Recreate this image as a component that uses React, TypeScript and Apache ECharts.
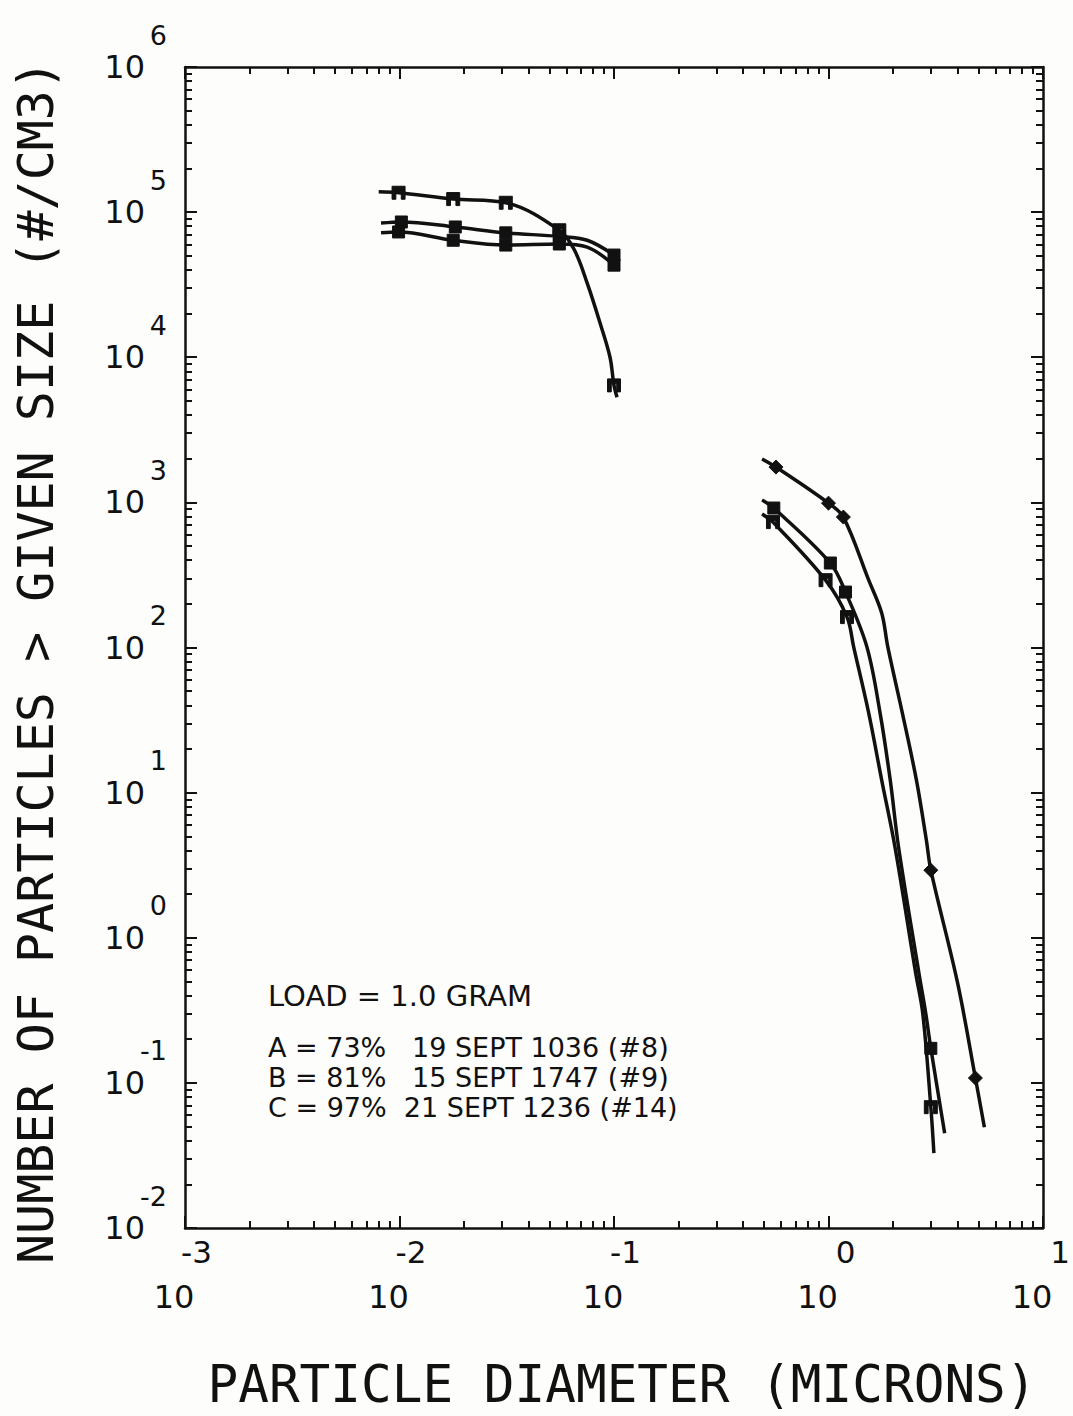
import React, { useEffect, useRef } from "react";
import * as echarts from "echarts";

// ---- tick values ----
const X_MAJOR = [0.001, 0.01, 0.1, 1, 10];
const Y_MAJOR = [0.01, 0.1, 1, 10, 100, 1000, 10000, 100000, 1000000];
const MINOR_MULT = [2, 3, 4, 5, 6, 7, 8, 9];

// ---- series A (73%) ----
const A_LEFT_X = [0.008, 0.0099, 0.0178, 0.0313, 0.0556, 0.0653, 0.075, 0.0861, 0.0958, 0.1, 0.1033];
const A_LEFT_Y = [138000, 136000, 123000, 116000, 75000, 55000, 32400, 17200, 10000, 6400, 5300];
const A_LEFT_MARK = [0, 1, 1, 1, 1, 0, 0, 0, 0, 1, 0];
const A_RIGHT_X = [0.49, 0.551, 0.969, 1.22, 1.31, 1.54, 1.77, 2.04, 2.55, 2.75, 3.0, 3.1];
const A_RIGHT_Y = [830, 731, 291, 162, 101, 35.3, 12.2, 4.24, 0.57, 0.302, 0.068, 0.0328];
const A_RIGHT_MARK = [0, 1, 1, 1, 0, 0, 0, 0, 0, 0, 1, 0];

// ---- series B (81%) ----
const B_LEFT_X = [0.0082, 0.0102, 0.0182, 0.0313, 0.0556, 0.075, 0.1];
const B_LEFT_Y = [84000, 85500, 79000, 72000, 68000, 64000, 50600];
const B_LEFT_MARK = [0, 1, 1, 1, 1, 0, 1];
const B_RIGHT_X = [0.49, 0.556, 1.02, 1.2, 1.51, 1.74, 1.94, 2.12, 2.64, 2.84, 3.0, 3.48];
const B_RIGHT_Y = [1040, 914, 382, 241, 101, 35.3, 12.2, 4.24, 0.57, 0.302, 0.173, 0.045];
const B_RIGHT_MARK = [0, 1, 1, 1, 0, 0, 0, 0, 0, 0, 1, 0];

// ---- series C (97%) ----
const C_LEFT_X = [0.0082, 0.0099, 0.0178, 0.0313, 0.0556, 0.075, 0.1];
const C_LEFT_Y = [72000, 73000, 64000, 59300, 60300, 57400, 43100];
const C_LEFT_MARK = [0, 1, 1, 1, 1, 0, 1];
const C_RIGHT_X = [0.49, 0.569, 1.0, 1.173, 1.54, 1.77, 1.89, 2.21, 2.57, 2.86, 3.0, 4.0, 4.84, 5.33];
const C_RIGHT_Y = [1990, 1750, 988, 792, 291, 173, 101, 35.3, 12.2, 4.7, 2.92, 0.486, 0.108, 0.0495];
const C_RIGHT_MARK = [0, 1, 1, 1, 0, 0, 0, 0, 0, 0, 1, 0, 1, 0];

// ---- texts ----
const X_TITLE = "PARTICLE DIAMETER (MICRONS)";
const Y_TITLE = "NUMBER OF PARTICLES > GIVEN SIZE (#/CM3)";
const NOTE_LINES = [
  "LOAD = 1.0 GRAM",
  "A = 73%   19 SEPT 1036 (#8)",
  "B = 81%   15 SEPT 1747 (#9)",
  "C = 97%  21 SEPT 1236 (#14)",
];

const FONT = '"DejaVu Sans", sans-serif';
const MONO = '"DejaVu Sans Mono", monospace';
const INK = "#111111";

function minorOf(majors: number[]) {
  const out: number[] = [];
  for (let i = 0; i < majors.length - 1; i++) {
    for (const m of MINOR_MULT) out.push(+(majors[i] * m).toPrecision(6));
  }
  return out;
}

function buildData(xs: number[], ys: number[], marks: number[], symbol: string, size: number[]) {
  return xs.map((x, i) => ({
    value: [x, ys[i]],
    symbol: marks[i] ? symbol : "none",
    symbolSize: size,
  }));
}

const SYM_A = "path://M0 0H12V12H8.5V4.5H3.5V12H0Z";
const SYM_B = "rect";
const SYM_C = "diamond";

export default function App() {
  const ref = useRef<HTMLDivElement>(null);
  useEffect(() => {
    if (!ref.current) return;
    const chart = echarts.init(ref.current, undefined, { renderer: "svg" });
    const X_MINOR = minorOf(X_MAJOR);
    const Y_MINOR = minorOf(Y_MAJOR);
    const lineStyle = { color: INK, width: 2.5 };
    const tickStyle = { color: INK, width: 2 };
    const expOf = (v: number) => Math.round(Math.log10(v));

    const xBase = (position: string, major: boolean, labels: boolean) => ({
      type: "log",
      logBase: 10,
      min: 0.001,
      max: 10,
      position,
      gridIndex: 0,
      axisLine: { show: major, onZero: false, lineStyle },
      axisTick: {
        show: true,
        inside: true,
        length: major ? 12 : 7,
        customValues: major ? X_MAJOR : X_MINOR,
        lineStyle: tickStyle,
      },
      axisLabel: labels
        ? {
            show: true,
            customValues: X_MAJOR,
            margin: 4,
            hideOverlap: false,
            showMinLabel: true,
            showMaxLabel: true,
            formatter: (v: number) => `{e|${expOf(v)}}\n{b|10}{p|}`,
            rich: {
              e: { fontFamily: FONT, fontSize: 31, color: INK, width: 54, align: "right", lineHeight: 40 },
              b: { fontFamily: FONT, fontSize: 32, color: INK, width: 32, align: "right", lineHeight: 50 },
              p: { width: 22, lineHeight: 50 },
            },
          }
        : { show: false },
      splitLine: { show: false },
    });

    const yBase = (position: string, major: boolean, labels: boolean) => ({
      type: "log",
      logBase: 10,
      min: 0.01,
      max: 1000000,
      position,
      gridIndex: 0,
      axisLine: { show: major, onZero: false, lineStyle },
      axisTick: {
        show: true,
        inside: true,
        length: major ? 12 : 7,
        customValues: major ? Y_MAJOR : Y_MINOR,
        lineStyle: tickStyle,
      },
      axisLabel: labels
        ? {
            show: true,
            customValues: Y_MAJOR,
            margin: 18,
            hideOverlap: false,
            showMinLabel: true,
            showMaxLabel: true,
            formatter: (v: number) => `{e|${expOf(v)}}\n{b|10}{p|}\n{g| }`,
            rich: {
              e: { fontFamily: FONT, fontSize: 27, color: INK, lineHeight: 32 },
              b: { fontFamily: FONT, fontSize: 32, color: INK, lineHeight: 32 },
              p: { width: 22, lineHeight: 32 },
              g: { fontSize: 10, lineHeight: 32 },
            },
          }
        : { show: false },
      splitLine: { show: false },
    });

    const series = [
      { name: "A", xs: A_LEFT_X, ys: A_LEFT_Y, m: A_LEFT_MARK, s: SYM_A, z: [13, 13] },
      { name: "A", xs: A_RIGHT_X, ys: A_RIGHT_Y, m: A_RIGHT_MARK, s: SYM_A, z: [13, 13] },
      { name: "B", xs: B_LEFT_X, ys: B_LEFT_Y, m: B_LEFT_MARK, s: SYM_B, z: [12, 12] },
      { name: "B", xs: B_RIGHT_X, ys: B_RIGHT_Y, m: B_RIGHT_MARK, s: SYM_B, z: [12, 12] },
      { name: "C", xs: C_LEFT_X, ys: C_LEFT_Y, m: C_LEFT_MARK, s: SYM_B, z: [12, 12] },
      { name: "C", xs: C_RIGHT_X, ys: C_RIGHT_Y, m: C_RIGHT_MARK, s: SYM_C, z: [14, 14] },
    ].map((d) => ({
      name: d.name,
      type: "line",
      xAxisIndex: 0,
      yAxisIndex: 0,
      smooth: 0.35,
      showSymbol: true,
      data: buildData(d.xs, d.ys, d.m, d.s, d.z),
      lineStyle: { color: INK, width: 3.5 },
      itemStyle: { color: INK, borderColor: INK, borderWidth: 1 },
      emphasis: { disabled: true },
    }));

    const noteY = [996, 1047, 1077, 1107];
    const graphics: any[] = [
      {
        type: "text",
        x: 622,
        y: 1384,
        style: {
          text: X_TITLE,
          fontFamily: MONO,
          fontSize: 51,
          fill: INK,
          align: "center",
          verticalAlign: "middle",
          textAlign: "center",
          textVerticalAlign: "middle",
        },
      },
      {
        type: "text",
        x: 36,
        y: 662,
        rotation: Math.PI / 2,
        style: {
          text: Y_TITLE,
          fontFamily: MONO,
          fontSize: 50,
          fill: INK,
          align: "center",
          verticalAlign: "middle",
          textAlign: "center",
          textVerticalAlign: "middle",
        },
      },
      ...NOTE_LINES.map((t, i) => ({
        type: "text",
        x: 268,
        y: noteY[i],
        style: {
          text: t,
          fontFamily: FONT,
          fontSize: i === 0 ? 29 : 27,
          lineHeight: i === 0 ? 29 : 27,
          fill: INK,
          align: "left",
          verticalAlign: "middle",
          textAlign: "left",
          textVerticalAlign: "middle",
        },
      })),
    ];

    chart.setOption({
      animation: false,
      backgroundColor: "#fdfdfb",
      grid: { left: 185, right: 23, top: 67, bottom: 188, containLabel: false },
      xAxis: [
        xBase("bottom", true, true),
        xBase("bottom", false, false),
        xBase("top", true, false),
        xBase("top", false, false),
      ],
      yAxis: [
        yBase("left", true, true),
        yBase("left", false, false),
        yBase("right", true, false),
        yBase("right", false, false),
      ],
      series,
      graphic: graphics,
    });
    return () => chart.dispose();
  }, []);

  return (
    <div
      ref={ref}
      style={{ position: "absolute", left: 0, top: 0, width: 1073, height: 1416 }}
    />
  );
}
